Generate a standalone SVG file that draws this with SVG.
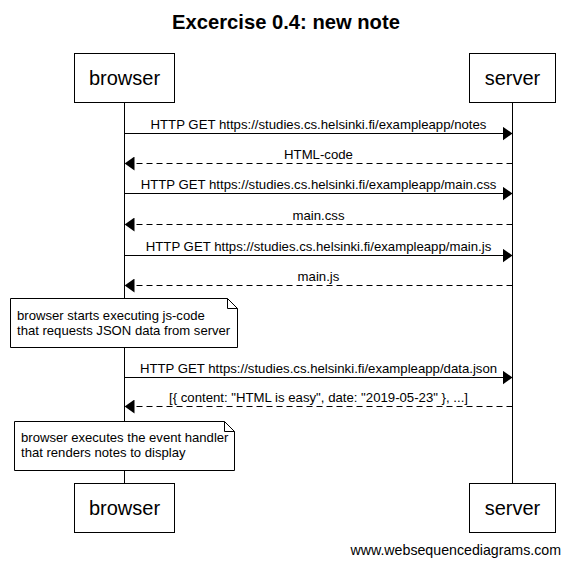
<svg xmlns="http://www.w3.org/2000/svg" width="570" height="566" viewBox="0 0 570 566">
<style>
text{font-family:"Liberation Sans",Arial,sans-serif;fill:#000}
.t{font-size:20.2px;font-weight:bold;text-anchor:middle}
.p{font-size:20px;text-anchor:middle}
.m{font-size:13.2px;text-anchor:middle}
.n{font-size:13.1px}
.box{fill:#fff;stroke:#000;stroke-width:1}
.life{stroke:#000;stroke-width:1}
.sol{stroke:#000;stroke-width:1;fill:none}
.dash{stroke:#000;stroke-width:1;fill:none;stroke-dasharray:6,4}
.note{fill:#fff;stroke:#000;stroke-width:1}
</style>
<defs>
<marker id="ah" viewBox="0 0 10 14" markerWidth="10" markerHeight="14" refX="10" refY="7" orient="auto" markerUnits="userSpaceOnUse">
<path d="M0,0 L10,7 L0,14 Z" fill="#000"/>
</marker>
</defs>
<rect width="570" height="566" fill="#fff"/>
<text class="t" x="286" y="29">Excercise 0.4: new note</text>
<g id="lifelines">
<line class="life" x1="124.5" y1="102" x2="124.5" y2="483"/>
<line class="life" x1="512.5" y1="102" x2="512.5" y2="483"/>
</g>
<g id="browser">
<rect class="box" x="74.5" y="53.5" width="100" height="49"/>
<text class="p" x="124.5" y="85">browser</text>
</g>
<g id="server">
<rect class="box" x="469.5" y="53.5" width="86" height="49"/>
<text class="p" x="512.5" y="85">server</text>
</g>
<g id="browser-bottom">
<rect class="box" x="74.5" y="483.5" width="100" height="49"/>
<text class="p" x="124.5" y="515">browser</text>
</g>
<g id="server-bottom">
<rect class="box" x="469.5" y="483.5" width="86" height="49"/>
<text class="p" x="512.5" y="515">server</text>
</g>
<g id="connectors">
<line class="sol" x1="124.5" y1="133.5" x2="512.5" y2="133.5" marker-end="url(#ah)"/>
<line class="dash" x1="512.5" y1="163.5" x2="124.5" y2="163.5" marker-end="url(#ah)"/>
<line class="sol" x1="124.5" y1="193.5" x2="512.5" y2="193.5" marker-end="url(#ah)"/>
<line class="dash" x1="512.5" y1="224.5" x2="124.5" y2="224.5" marker-end="url(#ah)"/>
<line class="sol" x1="124.5" y1="255.5" x2="512.5" y2="255.5" marker-end="url(#ah)"/>
<line class="dash" x1="512.5" y1="285.5" x2="124.5" y2="285.5" marker-end="url(#ah)"/>
<line class="sol" x1="124.5" y1="377.5" x2="512.5" y2="377.5" marker-end="url(#ah)"/>
<line class="dash" x1="512.5" y1="406.5" x2="124.5" y2="406.5" marker-end="url(#ah)"/>
<text class="m" x="318.5" y="129">HTTP GET https://studies.cs.helsinki.fi/exampleapp/notes</text>
<text class="m" x="318.5" y="159">HTML-code</text>
<text class="m" x="318.5" y="189">HTTP GET https://studies.cs.helsinki.fi/exampleapp/main.css</text>
<text class="m" x="318.5" y="220">main.css</text>
<text class="m" x="318.5" y="251">HTTP GET https://studies.cs.helsinki.fi/exampleapp/main.js</text>
<text class="m" x="318.5" y="281">main.js</text>
<text class="m" x="318.5" y="373">HTTP GET https://studies.cs.helsinki.fi/exampleapp/data.json</text>
<text class="m" x="318.5" y="402">[{ content: "HTML is easy", date: "2019-05-23" }, ...]</text>
</g>
<g id="note1">
<path class="note" d="M10.5,298.5 H227.5 L237.5,308.5 V347.5 H10.5 Z"/>
<path class="sol" d="M227.5,298.5 V308.5 H237.5"/>
<text class="n" x="17" y="320">browser starts executing js-code</text>
<text class="n" x="17" y="335">that requests JSON data from server</text>
</g>
<g id="note2">
<path class="note" d="M14.5,421.5 H224.5 L234.5,431.5 V470.5 H14.5 Z"/>
<path class="sol" d="M224.5,421.5 V431.5 H234.5"/>
<text class="n" x="21" y="442">browser executes the event handler</text>
<text class="n" x="21" y="457">that renders notes to display</text>
</g>
<text class="n" x="561" y="555" style="font-size:14.2px;text-anchor:end">www.websequencediagrams.com</text>
</svg>
